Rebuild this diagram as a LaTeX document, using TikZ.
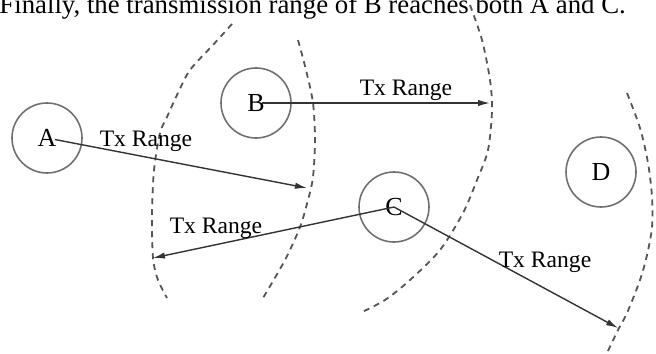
\documentclass[tikz,border=0pt]{standalone}
\usepackage{fontspec}
\setmainfont{Liberation Serif}
\usetikzlibrary{arrows.meta}
\definecolor{nodegray}{HTML}{707070}
\definecolor{arrowgray}{HTML}{333333}
\definecolor{rangegray}{HTML}{555555}
\tikzset{
  station/.style={circle, draw=nodegray, line width=0.8pt, minimum size=35pt,
                  inner sep=0pt, font=\fontsize{13}{15}\selectfont},
  txarr/.style={-{Latex[length=6pt,width=3.2pt]}, arrowgray, line width=0.7pt},
  txlbl/.style={anchor=base, inner sep=0pt, font=\fontsize{11.8}{14}\selectfont},
  rangeedge/.style={dash pattern=on 3pt off 2.5pt, rangegray, line width=0.9pt},
}
\begin{document}
\begin{tikzpicture}[x=0.5pt, y=-0.5pt]
  \useasboundingbox (0,0) rectangle (656,353);

  % sentence above, cut by the top edge
  \node[anchor=base west, inner sep=0pt, font=\fontsize{13.4}{15}\selectfont] (sentence)
    at (-1,14) {Finally, the transmission range of B reaches both A and C.};

  % stations
  \node[station] (A) at (47,138) {A};
  \node[station] (B) at (256,103) {B};
  \node[station] (C) at (394,207) {C};
  \node[station] (D) at (601,172) {D};

  % ends of the ranges
  \coordinate (tipA) at (307,188);
  \coordinate (tipB) at (490,103);
  \coordinate (tipCl) at (153,258);
  \coordinate (tipCr) at (618,328);

  % range edges
  \draw[rangeedge] plot[smooth] coordinates {(298,40) (306,70) (313,103) (315,140)
    (313,177) (308,200) (300,227) (285,260) (263,298)};
  \draw[rangeedge] plot[smooth] coordinates {(470,5) (482,40) (490,80) (492,110)
    (488,150) (477,180) (463,213) (440,250) (410,280) (385,300) (362,312)};
  \draw[rangeedge] plot[smooth] coordinates {(232,24) (213,45) (190,70) (177,95)
    (167,117) (160,133) (154,170) (152,215) (153,258) (158,280) (167,298)};
  \draw[rangeedge] plot[smooth] coordinates {(627,93) (640,128) (648,163) (652,197)
    (652,227) (647,255) (640,280) (627,313) (618,330) (607,353)};

  % tx arrows
  \draw[txarr, shorten <=4pt] (A.center) -- (tipA);
  \draw[txarr, shorten <=3pt] (B.center) -- (tipB);
  \draw[txarr] (C.center) -- (tipCl);
  \draw[txarr] (C.center) -- (tipCr);

  % labels
  \node[txlbl] (lblA) at (146,146) {Tx Range};
  \node[txlbl] (lblB) at (406,95) {Tx Range};
  \node[txlbl] (lblCl) at (216,233) {Tx Range};
  \node[txlbl] (lblCr) at (545,267) {Tx Range};
\end{tikzpicture}
\end{document}
